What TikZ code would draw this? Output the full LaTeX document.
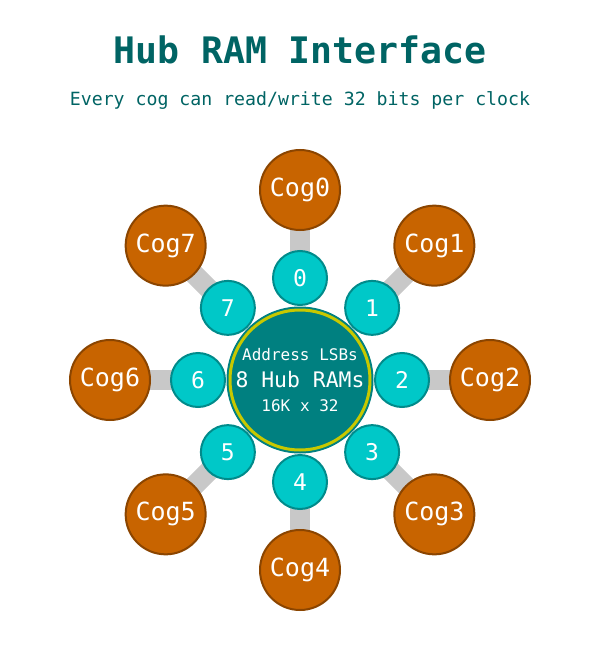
\documentclass[tikz,border=0pt]{standalone}
\usepackage{fontspec}
\setmonofont{DejaVu Sans Mono}
\usetikzlibrary{calc}
\begin{document}
\begin{tikzpicture}[x=1pt,y=-1pt,
  cog/.style={circle,fill=cogfill,draw=cogdraw,line width=2pt,minimum size=80pt,inner sep=0pt,text=white,font=\ttfamily\fontsize{25}{28}\selectfont},
  port/.style={circle,fill=portfill,draw=portdraw,line width=2pt,minimum size=54pt,inner sep=0pt,text=white,font=\ttfamily\fontsize{23}{26}\selectfont},
  link/.style={draw=linkgray,line width=20pt},
  hub/.style={circle,fill=hubfill,draw=ringyellow,line width=3pt,minimum size=140pt,inner sep=0pt,text=white,align=center}]
\definecolor{cogfill}{RGB}{200,100,0}
\definecolor{cogdraw}{RGB}{139,69,0}
\definecolor{portfill}{RGB}{0,200,200}
\definecolor{portdraw}{RGB}{0,139,139}
\definecolor{hubfill}{RGB}{0,128,128}
\definecolor{ringyellow}{RGB}{200,200,0}
\definecolor{linkgray}{RGB}{200,200,200}
\definecolor{titlecol}{RGB}{0,100,100}
\useasboundingbox (0,0) rectangle (600,650);
\fill[white] (0,0) rectangle (600,650);
\node[text=titlecol,font=\ttfamily\bfseries\fontsize{36.5}{40}\selectfont] (title) at (300,50) {Hub RAM Interface};
\node[text=titlecol,font=\ttfamily\fontsize{18.2}{22}\selectfont] (sub) at (300,100) {Every cog can read/write 32 bits per clock};
\coordinate (c) at (300,380);
\foreach \i in {0,...,7} {
  \pgfmathsetmacro{\ang}{-90+45*\i}
  \coordinate (cp\i) at ($(c)+(\ang:190)$);
  \coordinate (pp\i) at ($(c)+(\ang:102)$);
}
\foreach \i in {0,...,7} {
  \draw[link] (pp\i) -- (cp\i);
}
\node[hub,draw=hubfill,line width=1pt,minimum size=146pt] (hubouter) at (c) {};
\node[hub] (hub) at (c) {};
\node[text=white,font=\ttfamily\fontsize{16}{18}\selectfont] (l1) at (300,355) {Address LSBs};
\node[text=white,font=\ttfamily\fontsize{21.4}{24}\selectfont] (l2) at (300,380) {8 Hub RAMs};
\node[text=white,font=\ttfamily\fontsize{16}{18}\selectfont] (l3) at (300,406) {16K x 32};
\foreach \i in {0,...,7} {
  \node[port] (p\i) at (pp\i) {\i};
  \node[cog] (cog\i) at (cp\i) {Cog\i};
}
\end{tikzpicture}
\end{document}
